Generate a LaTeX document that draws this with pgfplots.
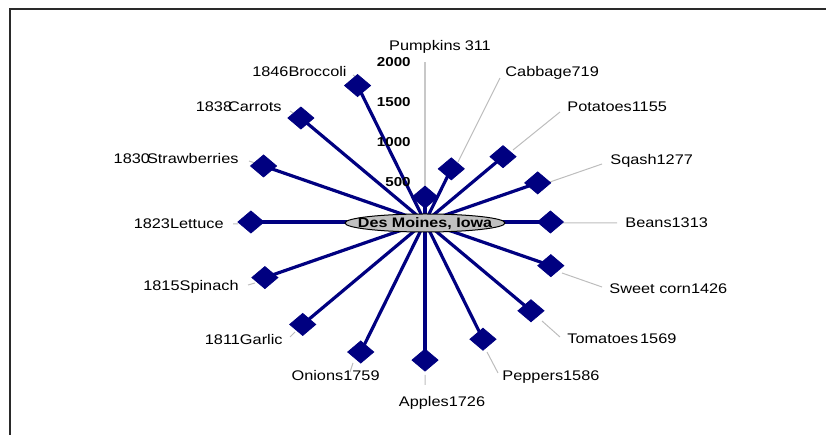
\documentclass[border=0pt]{standalone}
\usepackage{fontspec}
\setmainfont{Liberation Sans}[FakeStretch=1.17]
\usepackage{pgfplots}
\pgfplotsset{compat=1.18}
\usepackage{pgfplotstable}
\definecolor{navy}{HTML}{000080}
\definecolor{lead}{HTML}{BDBDBD}
\definecolor{axgray}{HTML}{C8C8C8}
\definecolor{ellfill}{HTML}{C0C0C0}
\definecolor{framec}{HTML}{2A2A2A}

\pgfplotstableread{
name angle value
Pumpkins 0 311
Cabbage 22.5 719
Potatoes 45 1155
Sqash 67.5 1277
Beans 90 1313
Sweetcorn 112.5 1426
Tomatoes 135 1569
Peppers 157.5 1586
Apples 180 1726
Onions 202.5 1759
Garlic 225 1811
Spinach 247.5 1815
Lettuce 270 1823
Strawberries 292.5 1830
Carrots 315 1838
Broccoli 337.5 1846
}\veg

\begin{document}
\begin{tikzpicture}
\begin{scope}[x=0.5bp,y=-0.5bp]
\useasboundingbox (0,0) rectangle (826,435);
\draw[framec, line width=1.2bp] (10,436) -- (10,9) -- (827,9);
\draw[lead, line width=0.5bp]
  (458,162)--(500,78)
  (513,150)--(560,112)
  (550,182)--(602,164)
  (563,223)--(617,223)
  (562,273)--(602,287)
  (542,321)--(560,337)
  (487,352)--(498,373)
  (425,375)--(425,385)
  (353,363)--(350,372)
  (295,332)--(290,337)
  (255,283)--(248,285)
  (238,224)--(233,224)
  (255,163)--(249,161)
  (295,114)--(290,111)
  (357,78)--(353,75);
\end{scope}

\begin{axis}[at={(0,0)}, anchor=north west, scale only axis,
  width=413bp, height=217.5bp,
  xmin=-4450.26, xmax=4198.95, ymin=-2662.5, ymax=2775,
  hide axis, clip=false]
\addplot[axgray, line width=0.6bp] coordinates {(0,0) (0,2000)};
\addplot[navy, line width=1.6bp, no markers,
  quiver={u={\thisrow{value}*sin(\thisrow{angle})},
          v={\thisrow{value}*cos(\thisrow{angle})}}]
  table[x expr=0, y expr=0] {\veg};
\addplot[only marks, mark=diamond*, mark size=5.5bp,
  mark options={xscale=1.576, fill=navy, draw=navy}]
  table[x expr={\thisrow{value}*sin(\thisrow{angle})},
        y expr={\thisrow{value}*cos(\thisrow{angle})}] {\veg};
\foreach \t in {500,1000,1500,2000}{
  \edef\temp{\noexpand\node[anchor=east, inner sep=0pt, xshift=-7bp,
    font=\noexpand\bfseries\noexpand\fontsize{6.5}{7}\noexpand\selectfont]
    at (axis cs:0,\t) {\t};}
  \temp
}
\end{axis}

\begin{scope}[x=0.5bp,y=-0.5bp, every node/.style={inner sep=0pt, font=\fontsize{7}{8}\selectfont}]
\draw[black, fill=ellfill, line width=0.5bp] (425,223) ellipse [x radius=80, y radius=9];
\node[font=\bfseries\fontsize{6.9}{8}\selectfont] at (425,223.5) {Des Moines, Iowa};
% right side
\node[anchor=base west] at (505,77) {Cabbage719};
\node[anchor=base west] at (567,112) {Potatoes1155};
\node[anchor=base west] at (610,165) {Sqash1277};
\node[anchor=base west] at (625,228) {Beans1313};
\node[anchor=base west] at (609,294) {Sweet corn1426};
\node[anchor=base west] at (567,344) {Tomatoes\kern1bp 1569};
\node[anchor=base west] at (502,381) {Peppers1586};
% centre
\node[anchor=base] at (440,51) {Pumpkins\kern2bp 311};
\node[anchor=base] at (442,407) {Apples1726};
% left side
\node[anchor=base east] at (380,381) {Onions1759};
\node[anchor=base east] at (283,345) {1811Garlic};
\node[anchor=base east] at (239,291) {1815Spinach};
\node[anchor=base east] at (224,229) {1823Lettuce};
\node[anchor=base east] at (239,164) {1830\kern-1.5bp Strawberries};
\node[anchor=base east] at (282,112) {1838\kern-2bp Carrots};
\node[anchor=base east] at (347,77) {1846Broccoli};
\end{scope}
\end{tikzpicture}
\end{document}
